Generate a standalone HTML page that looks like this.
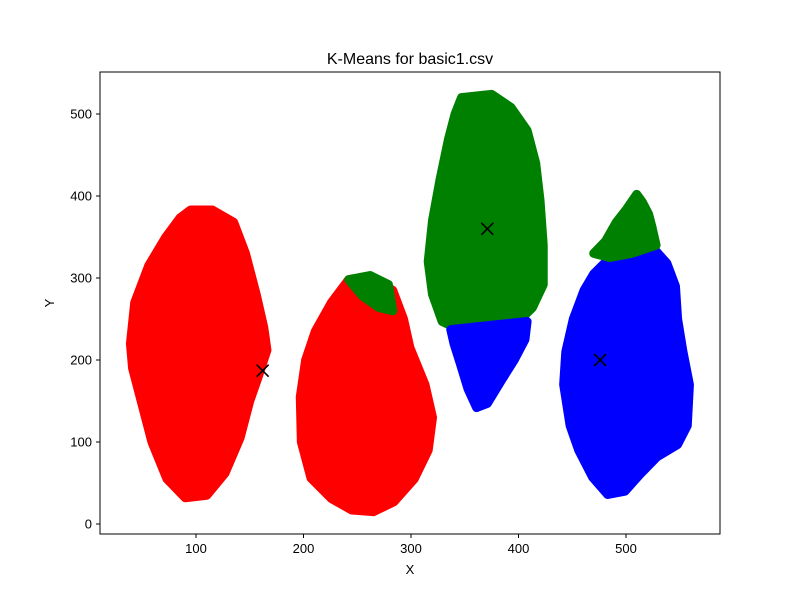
<!DOCTYPE html>
<html><head><meta charset="utf-8"><style>
body{margin:0;background:#fff;}
svg text{font-family:"Liberation Sans","DejaVu Sans",sans-serif;}
</style></head><body>
<svg id="chart" width="800" height="600" xmlns="http://www.w3.org/2000/svg">
<rect width="800" height="600" fill="#fff"/>
<text x="410" y="64" text-anchor="middle" font-size="16">K-Means for basic1.csv</text>
<g id="marks"></g>
<rect x="100" y="72" width="620" height="462" fill="none" stroke="#000" stroke-width="1"/>
<g id="axes"></g>
<text x="410" y="574" text-anchor="middle" font-size="13">X</text>
<text x="54" y="303" text-anchor="middle" font-size="13" transform="rotate(-90 54 303)">Y</text>
</svg>
<script>
const xTicks=[100,200,300,400,500];
const yTicks=[0,100,200,300,400,500];
const clusterNames=["red-cluster-left","red-cluster-mid","green-cluster-top","blue-cluster-under-green","blue-cluster-right","green-cap-mid","green-cap-right"];
const clusterColors=["#ff0000","#ff0000","#008000","#0000ff","#0000ff","#008000","#008000"];
const redLeft=[[95,383],[115,383],[135,368],[146,330],[156,280],[163,240],[166,212],[158,180],[150,150],[141,105],[127,62],[110,35],[90,32],[73,55],[59,100],[49,150],[41,190],[39,220],[43,270],[56,315],[72,350],[85,373]];
const redMid=[[242,298],[260,302],[283,285],[293,250],[299,215],[313,170],[320,130],[316,90],[303,55],[284,27],[265,15],[245,17],[226,31],[207,56],[198,100],[197,155],[202,200],[211,235],[226,270]];
const greenTop=[[347,520],[375,524],[393,508],[408,480],[416,440],[420,395],[423,340],[423,292],[413,264],[400,247],[370,240],[345,237],[329,247],[320,280],[316,320],[320,370],[327,420],[335,470],[341,500]];
const blueUnder=[[337,237],[408,247],[406,225],[396,200],[384,175],[371,147],[361,142],[353,165],[346,195],[340,220]];
const blueRight=[[480,318],[505,333],[525,337],[538,318],[546,290],[548,250],[553,210],[559,170],[557,120],[548,97],[529,82],[514,62],[499,40],[483,36],[469,57],[456,90],[448,120],[442,170],[444,210],[451,250],[461,285],[470,305]];
const greenCapMid=[[242,298],[262,303],[279,292],[283,260],[270,264],[255,278]];
const greenCapRight=[[470,330],[481,345],[491,368],[500,383],[510,402],[515,393],[521,378],[524,363],[528,340],[505,330],[485,325]];
const clusterShapes=[redLeft,redMid,greenTop,blueUnder,blueRight,greenCapMid,greenCapRight];
const centroidX=[162,371,476];
const centroidY=[187,360,200];
function sx(v){return 88.5+v*1.075;}
function sy(v){return 524-v*0.82;}
const NS="http://www.w3.org/2000/svg";
const marks=document.getElementById('marks');
clusterShapes.forEach((pts,i)=>{
  const p=document.createElementNS(NS,'polygon');
  p.setAttribute('points',pts.map(d=>sx(d[0])+','+sy(d[1])).join(' '));
  p.setAttribute('fill',clusterColors[i]);
  p.setAttribute('stroke',clusterColors[i]);
  p.setAttribute('stroke-width','9');
  p.setAttribute('stroke-linejoin','round');
  
  
  marks.appendChild(p);
});
centroidX.forEach((cx,i)=>{
  const x=sx(cx),y=sy(centroidY[i]);
  const g=document.createElementNS(NS,'path');
  g.setAttribute('d',`M${x-6},${y-6}L${x+6},${y+6}M${x-6},${y+6}L${x+6},${y-6}`);
  g.setAttribute('stroke','#000');
  g.setAttribute('stroke-width','1.6');
  
  
  marks.appendChild(g);
});
const axes=document.getElementById('axes');
xTicks.forEach(t=>{
  const l=document.createElementNS(NS,'line');
  l.setAttribute('x1',sx(t));l.setAttribute('x2',sx(t));l.setAttribute('y1',534);l.setAttribute('y2',538);
  l.setAttribute('stroke','#000');
  
  
  axes.appendChild(l);
  const tx=document.createElementNS(NS,'text');
  tx.setAttribute('x',sx(t));tx.setAttribute('y',553);tx.setAttribute('text-anchor','middle');tx.setAttribute('font-size','13');
  tx.textContent=t;
  
  
  axes.appendChild(tx);
});
yTicks.forEach(t=>{
  const l=document.createElementNS(NS,'line');
  l.setAttribute('x1',96);l.setAttribute('x2',100);l.setAttribute('y1',sy(t));l.setAttribute('y2',sy(t));
  l.setAttribute('stroke','#000');
  
  
  axes.appendChild(l);
  const tx=document.createElementNS(NS,'text');
  tx.setAttribute('x',92);tx.setAttribute('y',sy(t)+4.5);tx.setAttribute('text-anchor','end');tx.setAttribute('font-size','13');
  tx.textContent=t;
  
  
  axes.appendChild(tx);
});
</script>
</body></html>
